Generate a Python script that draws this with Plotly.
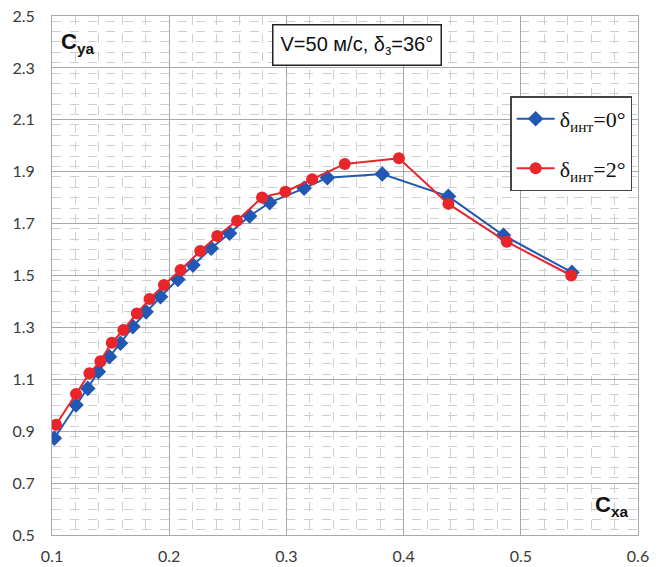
import plotly.graph_objects as go

# Polar curve Cya(Cxa), V = 50 m/s, flap deflection 36 deg
cx_int0 = [0.102, 0.1205, 0.1305, 0.1396, 0.149, 0.1584, 0.169, 0.1803, 0.1926,
           0.2074, 0.2203, 0.2359, 0.2515, 0.2686, 0.2857, 0.3151, 0.335, 0.3818,
           0.4382, 0.4852, 0.5436]
cy_int0 = [0.873, 1.001, 1.065, 1.129, 1.187, 1.239, 1.303, 1.360, 1.418,
           1.485, 1.540, 1.605, 1.663, 1.729, 1.781, 1.836, 1.877, 1.891,
           1.805, 1.655, 1.512]

cx_int2 = [0.1034, 0.1205, 0.1319, 0.1413, 0.151, 0.1609, 0.1724, 0.1832, 0.1955,
           0.2097, 0.2265, 0.241, 0.2579, 0.2792, 0.2991, 0.322, 0.3498, 0.396,
           0.4382, 0.488, 0.543]
cy_int2 = [0.925, 1.043, 1.123, 1.170, 1.241, 1.290, 1.354, 1.409, 1.463,
           1.521, 1.594, 1.652, 1.711, 1.801, 1.823, 1.871, 1.930, 1.952,
           1.776, 1.630, 1.500]

x_ticks = [0.1, 0.2, 0.3, 0.4, 0.5, 0.6]
y_ticks = [0.5, 0.7, 0.9, 1.1, 1.3, 1.5, 1.7, 1.9, 2.1, 2.3, 2.5]

BLUE = "#2158b4"
RED = "#e8252b"

fig = go.Figure()
fig.add_trace(go.Scatter(
    x=cx_int0, y=cy_int0, mode="lines+markers",
    name="δ<sub>инт</sub>=0°", legendgroup="int0",
    line=dict(color=BLUE, width=2),
    marker=dict(symbol="diamond", size=12, color=BLUE),
))
fig.add_trace(go.Scatter(
    x=cx_int2, y=cy_int2, mode="lines+markers",
    name="δ<sub>инт</sub>=2°", legendgroup="int2",
    line=dict(color=RED, width=2),
    marker=dict(symbol="circle", size=12, color=RED),
))

tick_font = dict(family="Lato, Liberation Sans, sans-serif", size=16, color="#3a3a3a")

fig.update_xaxes(
    range=[0.1, 0.6], tickvals=x_ticks, ticktext=[f"{v:.1f}" for v in x_ticks],
    showgrid=True, gridcolor="#a8a8a8", gridwidth=1,
    minor=dict(dtick=0.02, showgrid=True, gridcolor="#cfcfcf", griddash="dash", gridwidth=1),
    showline=True, linecolor="#a8a8a8", linewidth=1, mirror=True,
    zeroline=False, ticks="", tickfont=tick_font, ticklabelstandoff=7,
    automargin=False,
)
fig.update_yaxes(
    range=[0.5, 2.5], tickvals=y_ticks, ticktext=[f"{v:.1f}" for v in y_ticks],
    showgrid=True, gridcolor="#a8a8a8", gridwidth=1,
    minor=dict(dtick=0.04, showgrid=True, gridcolor="#cfcfcf", griddash="dash", gridwidth=1),
    showline=True, linecolor="#a8a8a8", linewidth=1, mirror=True,
    zeroline=False, ticks="", tickfont=tick_font, ticklabelstandoff=13,
    automargin=False,
)

fig.add_annotation(
    text="<b>C<sub>ya</sub></b>", xref="paper", yref="paper",
    x=0.012, y=0.948, xanchor="left", yanchor="middle", showarrow=False,
    font=dict(family="Liberation Sans, Arial, sans-serif", size=22, color="#111111"),
)
fig.add_annotation(
    text="<b>C<sub>xa</sub></b>", xref="paper", yref="paper",
    x=0.986, y=0.055, xanchor="right", yanchor="middle", showarrow=False,
    font=dict(family="Liberation Sans, Arial, sans-serif", size=22, color="#111111"),
)
fig.add_annotation(
    text="V=50 м/с, δ<sub>з</sub>=36°", xref="paper", yref="paper",
    x=0.52, y=0.944, xanchor="center", yanchor="middle", showarrow=False,
    font=dict(family="Liberation Sans, Arial, sans-serif", size=20, color="#111111"),
    bordercolor="#222222", borderwidth=1.5, borderpad=7, bgcolor="white",
)

fig.update_layout(
    width=665, height=567,
    margin=dict(l=52, r=27, t=16, b=32),
    paper_bgcolor="white", plot_bgcolor="white",
    showlegend=True,
    legend=dict(
        x=0.99, y=0.845, xanchor="right", yanchor="top",
        font=dict(family="Liberation Serif, Times New Roman, serif", size=22, color="#111111"),
        bordercolor="#444444", borderwidth=1.5, bgcolor="white",
        tracegroupgap=18, itemwidth=38,
    ),
)

fig.write_html("out.html")
